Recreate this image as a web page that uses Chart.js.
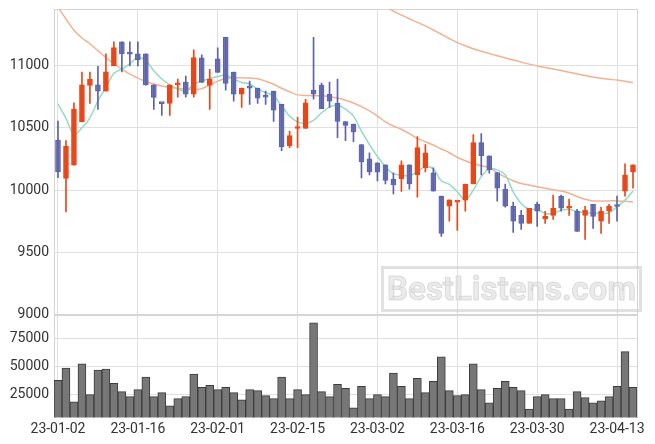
<!DOCTYPE html>
<html>
<head>
<meta charset="utf-8">
<script src="https://cdn.jsdelivr.net/npm/chart.js@4.4.0/dist/chart.umd.min.js"></script>
<style>
  body { margin: 0; background: #fff; }
  #wrap { position: relative; width: 655px; height: 444px; overflow: hidden; background: #fff; }
  #cPrice { position: absolute; left: 0; top: 0; }
  #cVol { position: absolute; left: 0; top: 305px; }
  #mark {
    position: absolute; left: 381px; top: 266px; width: 255px; height: 40px;
    border: 3px solid rgba(200,200,200,0.55);
    font: bold 33px Roboto, sans-serif; line-height: 40px; text-align: center;
    color: rgba(225,225,225,0.65);
    -webkit-text-stroke: 1px rgba(195,195,195,0.5);
  }
</style>
</head>
<body>
<div id="wrap">
  <canvas id="cPrice" width="655" height="327"></canvas>
  <canvas id="cVol" width="655" height="139"></canvas>
  <div id="mark">BestListens.com</div>
</div>
<script>
// 거래일
const dates = [
  "23-01-02","23-01-03","23-01-04","23-01-05","23-01-06","23-01-09","23-01-10","23-01-11","23-01-12","23-01-13",
  "23-01-16","23-01-17","23-01-18","23-01-19","23-01-20","23-01-25","23-01-26","23-01-27","23-01-30","23-01-31",
  "23-02-01","23-02-02","23-02-03","23-02-06","23-02-07","23-02-08","23-02-09","23-02-10","23-02-13","23-02-14",
  "23-02-15","23-02-16","23-02-17","23-02-20","23-02-21","23-02-22","23-02-23","23-02-24","23-02-27","23-02-28",
  "23-03-02","23-03-03","23-03-06","23-03-07","23-03-08","23-03-09","23-03-10","23-03-13","23-03-14","23-03-15",
  "23-03-16","23-03-17","23-03-20","23-03-21","23-03-22","23-03-23","23-03-24","23-03-27","23-03-28","23-03-29",
  "23-03-30","23-03-31","23-04-03","23-04-04","23-04-05","23-04-06","23-04-07","23-04-10","23-04-11","23-04-12",
  "23-04-13","23-04-14","23-04-17"
];

const opens = [
  10400,10094,10200,10550,10840,10845,10795,11000,11192,11100,
  11095,11095,10845,10700,10697,10845,10868,10770,11062,10840,
  11054,11227,10949,10770,10822,10819,10748,10795,10689,10357,
  10495,10495,10803,10843,10770,10697,10551,10530,10365,10251,
  10219,10203,10089,10089,10203,10122,10178,10138,9951,9870,
  9903,9919,10049,10381,10276,10141,10008,9870,9797,9732,
  9886,9770,9797,9951,9854,9830,9797,9886,9749,9830,
  9873,9992,10146
];
const highs = [
  10554,10397,10700,10949,10949,10995,11095,11192,11192,11192,
  11192,11095,10845,10700,10843,10892,10916,11127,11087,10970,
  11143,11227,10949,10819,10876,10819,10795,10795,10689,10473,
  10584,10730,11227,10860,10868,10892,10551,10530,10365,10300,
  10219,10203,10138,10235,10203,10430,10365,10178,9951,9921,
  9913,10049,10446,10454,10276,10141,10049,9903,9838,9854,
  9903,9830,9959,9959,9927,9846,9870,9886,9862,9886,
  9951,10211,10203
];
const lows = [
  10100,9824,10200,10548,10697,10649,10795,10997,10949,10997,
  10997,10843,10649,10600,10600,10746,10746,10746,10865,10649,
  10946,10803,10714,10665,10689,10697,10689,10551,10316,10341,
  10341,10495,10730,10654,10665,10422,10397,10389,10097,10122,
  10073,10049,9968,9989,10008,9943,10146,9992,9627,9749,
  9676,9830,10049,10122,10135,9911,9862,9659,9684,9732,
  9708,9732,9765,9830,9797,9667,9603,9692,9651,9732,
  9749,9951,10016
];
const closes = [
  10146,10351,10650,10845,10890,10795,10950,11145,11095,11092,
  11045,10845,10745,10695,10845,10860,10770,11065,10865,10892,
  10946,10857,10770,10819,10819,10738,10746,10641,10349,10438,
  10511,10700,10770,10654,10714,10551,10519,10467,10227,10146,
  10143,10078,10041,10203,10049,10341,10300,9992,9651,9921,
  9913,10049,10381,10276,10162,10016,9870,9749,9732,9854,
  9830,9789,9854,9854,9870,9667,9838,9789,9830,9870,
  9868,10122,10203
];
const volumes = [
  37700,48600,18600,52300,25000,46800,47700,35000,27700,23200,
  29500,40500,23200,26800,15000,21400,23200,43200,31400,33200,
  29500,31400,26800,20500,29500,28600,24100,21400,40500,21400,
  29500,25000,88600,27700,23200,34100,30500,13200,32300,21400,
  25000,23200,44100,32300,21400,39500,26800,36800,58600,28600,
  24100,25000,52300,29500,17700,30500,36800,31400,28600,12300,
  23200,25000,21400,21400,12300,27700,22300,17700,19500,23200,
  32300,63200,31400
];

// 이동평균선
const ma5 = [
  10692,10576,10448,10500,10581,10716,10824,10938,10973,11014,
  11065,11040,10959,10892,10846,10811,10795,10850,10878,10897,
  10913,10924,10892,10865,10852,10811,10784,10757,10676,10594,
  10548,10535,10560,10621,10667,10684,10650,10594,10473,10365,
  10270,10189,10130,10122,10111,10149,10187,10170,10073,10046,
  9986,9919,10000,10108,10170,10162,10122,9986,9892,9846,
  9846,9811,9811,9838,9843,9830,9818,9816,9811,9818,
  9865,9919,9992
];
const ma20 = [
  11470,11375,11284,11222,11176,11120,11065,11015,10972,10932,
  10900,10873,10852,10836,10825,10818,10812,10806,10815,10845,
  10875,10898,10903,10903,10900,10895,10875,10850,10818,10790,
  10765,10760,10758,10757,10750,10740,10722,10700,10670,10636,
  10595,10548,10515,10487,10453,10415,10388,10362,10330,10300,
  10262,10236,10212,10195,10180,10138,10105,10075,10052,10040,
  10027,10015,10003,9992,9975,9948,9926,9913,9913,9913,
  9913,9910,9905
];
const ma60 = [
  null,null,null,null,null,null,null,null,null,null,
  null,null,null,null,null,null,null,null,null,null,
  null,null,null,null,null,null,null,null,null,null,
  null,null,null,null,null,null,null,null,null,null,
  null,11480,11437,11407,11377,11347,11319,11286,11252,11218,
  11185,11160,11135,11115,11097,11080,11062,11045,11028,11012,
  10998,10985,10972,10960,10947,10933,10920,10908,10898,10890,
  10884,10874,10862
];

// 축 눈금
const priceTicks = [9000, 9500, 10000, 10500, 11000];
const volumeTicks = [25000, 50000, 75000];

const UP = '#e8471a', DOWN = '#6f75b6', DOWN_EDGE = '#5c62a8';
const GRID = '#e0e0e0';
const isUp = i => closes[i] >= opens[i];

const tickFont = { family: 'Roboto', size: 14 };

const framePlugin = {
  id: 'frame',
  beforeDatasetsDraw(chart) {
    const a = chart.chartArea, c = chart.ctx;
    c.save();
    c.strokeStyle = '#d4d4d4';
    c.lineWidth = 1;
    c.strokeRect(Math.round(a.left) + 0.5, Math.round(a.top) + 0.5, Math.round(a.right - a.left), Math.round(a.bottom - a.top));
    c.restore();
  }
};

const xGrid = { offset: false, color: ctx => (ctx.index % 10 === 0 ? GRID : 'rgba(0,0,0,0)'), drawTicks: false };
// y축 폭 고정, 라벨 넘침 여백은 무시
const fixWidth = s => { s.width = 54; s.paddingTop = 0; s.paddingBottom = 0; };
const setTicks = list => s => { s.ticks = list.map(v => ({ value: v })); };

new Chart(document.getElementById('cPrice'), {
  type: 'bar',
  data: {
    labels: dates,
    datasets: [
      { type: 'line', data: ma60, borderColor: '#f2b291', borderWidth: 1.5, pointRadius: 0, tension: 0.3, order: 3 },
      { type: 'line', data: ma20, borderColor: '#f2b291', borderWidth: 1.5, pointRadius: 0, tension: 0.3, order: 2 },
      { type: 'line', data: ma5, borderColor: '#93dcc3', borderWidth: 1.5, pointRadius: 0, tension: 0.3, order: 1 },
      {
        data: dates.map((d, i) => [lows[i], highs[i]]),
        backgroundColor: dates.map((d, i) => isUp(i) ? UP : DOWN_EDGE),
        barThickness: 1, grouped: false, order: 0
      },
      {
        data: dates.map((d, i) => [opens[i], closes[i]]),
        backgroundColor: dates.map((d, i) => isUp(i) ? UP : DOWN),
        borderColor: dates.map((d, i) => isUp(i) ? UP : DOWN_EDGE),
        borderWidth: 1, borderSkipped: false, barThickness: 5, minBarLength: 2, grouped: false, order: 0
      }
    ]
  },
  options: {
    responsive: false,
    animation: false,
    layout: { padding: { top: 9, right: 18, left: 0, bottom: 12.5 } },
    plugins: { legend: { display: false }, tooltip: { enabled: false } },
    scales: {
      x: {
        offset: true,
        grid: xGrid,
        border: { color: '#d4d4d4' },
        ticks: { display: false }
      },
      y: {
        min: 9000, max: 11455,
        afterFit: fixWidth,
        afterBuildTicks: setTicks(priceTicks),
        grid: { color: GRID, drawTicks: false },
        border: { color: '#d4d4d4' },
        ticks: {
          padding: 5, color: '#333', font: tickFont, autoSkip: false,
          callback: v => String(v)
        }
      }
    }
  },
  plugins: [framePlugin]
});

new Chart(document.getElementById('cVol'), {
  type: 'bar',
  data: {
    labels: dates,
    datasets: [{
      data: volumes,
      backgroundColor: '#777777',
      borderColor: '#3c3c3c',
      borderWidth: 1,
      borderSkipped: 'bottom',
      barPercentage: 1, categoryPercentage: 1
    }]
  },
  options: {
    responsive: false,
    animation: false,
    layout: { padding: { top: 9, right: 18, left: 0, bottom: 2 } },
    plugins: { legend: { display: false }, tooltip: { enabled: false } },
    scales: {
      x: {
        offset: true,
        grid: xGrid,
        border: { color: '#d4d4d4' },
        ticks: {
          autoSkip: false, maxRotation: 0, padding: 4, color: '#333', font: tickFont,
          callback: (v, i) => (i % 10 === 0 ? dates[i] : '')
        }
      },
      y: {
        min: 5000, max: 96500,
        afterFit: fixWidth,
        afterBuildTicks: setTicks(volumeTicks),
        grid: { color: GRID, drawTicks: false },
        border: { color: '#d4d4d4' },
        ticks: {
          padding: 5, color: '#333', font: tickFont, autoSkip: false,
          callback: v => String(v)
        }
      }
    }
  },
  plugins: [framePlugin]
});
</script>
</body>
</html>
